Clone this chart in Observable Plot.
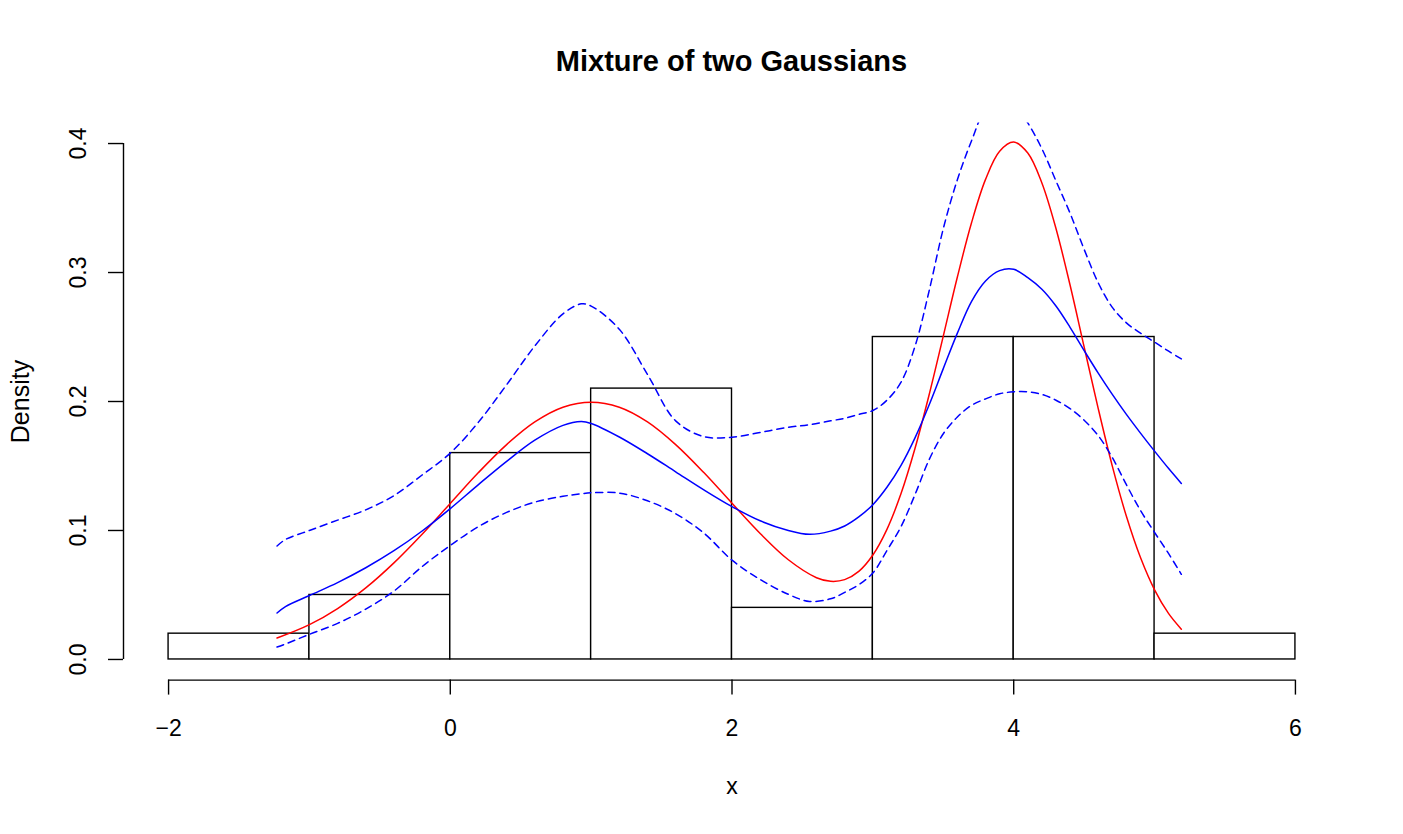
<!DOCTYPE html>
<html><head><meta charset="utf-8">
<script src="https://cdn.jsdelivr.net/npm/d3@7"></script>
<script src="https://cdn.jsdelivr.net/npm/@observablehq/plot@0.6"></script>
<style>
body{margin:0;background:#fff;font-family:"Liberation Sans",Arial,Helvetica,sans-serif;}
#title{box-sizing:border-box;width:1403px;height:100px;padding:47px 0 0 60px;text-align:center;font-weight:bold;font-size:29px;line-height:29px;color:#000;white-space:nowrap;}
#chart svg{display:block;}
</style></head><body>
<div id="title">Mixture of two Gaussians</div>
<div id="chart"></div>
<script>
// ---- data ----
const titleText = "Mixture of two Gaussians";
const xLabel = "x";
const yLabel = "Density";
const xTicks = [-2, 0, 2, 4, 6];
const yTicks = [0, 0.1, 0.2, 0.3, 0.4];

const histBreaks = [-2, -1, 0, 1, 2, 3, 4, 5, 6];
const histDensity = [0.02, 0.05, 0.16, 0.21, 0.04, 0.25, 0.25, 0.02];

// true density (red)
const trueX = [-1.23,-1.0,-0.8,-0.6,-0.4,-0.2,0,0.2,0.4,0.6,0.8,1.0,1.2,1.4,1.6,1.8,2.0,2.2,2.4,2.6,2.7,2.8,2.9,3.0,3.1,3.2,3.3,3.4,3.5,3.6,3.7,3.8,3.9,4.0,4.1,4.2,4.3,4.4,4.5,4.6,4.7,4.8,4.9,5.0,5.1,5.19];
const trueY = [0.0166,0.0270,0.0395,0.0555,0.0749,0.0971,0.1210,0.1449,0.1666,0.1842,0.1956,0.1995,0.1956,0.1842,0.1666,0.1449,0.1211,0.0977,0.0773,0.0634,0.0606,0.0619,0.0683,0.0810,0.1009,0.1286,0.1639,0.2054,0.2507,0.2965,0.3384,0.3722,0.3940,0.4011,0.3926,0.3694,0.3341,0.2903,0.2423,0.1945,0.1499,0.1110,0.0790,0.0540,0.0355,0.0235];

// estimate (blue) with bands
const estX = [-1.23,-1.17,-1.0,-0.8,-0.6,-0.4,-0.2,0,0.2,0.4,0.6,0.8,0.93,1.0,1.2,1.4,1.6,1.8,2.0,2.2,2.4,2.55,2.7,2.8,2.9,3.0,3.1,3.2,3.3,3.4,3.5,3.6,3.7,3.8,3.9,4.0,4.1,4.2,4.3,4.4,4.5,4.6,4.7,4.8,4.9,5.0,5.1,5.19];
const estY = [0.036,0.041,0.0496,0.0596,0.0711,0.0843,0.0996,0.1170,0.1356,0.1536,0.1700,0.1815,0.1845,0.1830,0.1725,0.1595,0.1455,0.1315,0.1185,0.1075,0.1000,0.0970,0.0995,0.1035,0.1105,0.1200,0.1335,0.1505,0.1720,0.1975,0.2255,0.2530,0.2775,0.2935,0.3015,0.3025,0.2960,0.2870,0.2740,0.2575,0.2395,0.2220,0.2055,0.1900,0.1755,0.1615,0.1480,0.1365];
const upperY = [0.088,0.093,0.100,0.108,0.116,0.127,0.143,0.160,0.184,0.213,0.243,0.268,0.2757,0.274,0.256,0.221,0.185,0.1728,0.1723,0.176,0.180,0.182,0.185,0.187,0.190,0.193,0.201,0.215,0.243,0.286,0.334,0.372,0.402,0.427,0.436,0.432,0.416,0.396,0.371,0.346,0.318,0.292,0.273,0.261,0.253,0.246,0.239,0.233];
const lowerY = [0.0096,0.012,0.0195,0.028,0.039,0.053,0.072,0.0884,0.103,0.114,0.122,0.1265,0.1285,0.1292,0.129,0.123,0.113,0.098,0.077,0.062,0.0505,0.045,0.047,0.052,0.058,0.067,0.0845,0.103,0.128,0.155,0.175,0.188,0.197,0.202,0.206,0.2075,0.2075,0.2055,0.201,0.1945,0.1855,0.1735,0.1565,0.1355,0.1155,0.0985,0.082,0.066];

// ---- tables built from arrays ----
const bins = histDensity.map((d, i) => ({lo: histBreaks[i], hi: histBreaks[i + 1], d}));
const trueCurve = trueX.map((x, i) => ({x, y: trueY[i]}));
const estCurve = estX.map((x, i) => ({x, y: estY[i]}));
const upperCurve = estX.map((x, i) => ({x, y: upperY[i]}));
const lowerCurve = estX.map((x, i) => ({x, y: lowerY[i]}));

// R-style padded domains (4% each side)
const xr = xTicks[xTicks.length - 1] - xTicks[0];
const xDomain = [xTicks[0] - 0.04 * xr, xTicks[xTicks.length - 1] + 0.04 * xr];
const yr = yTicks[yTicks.length - 1] - yTicks[0];
const yDomain = [yTicks[0] - 0.04 * yr, yTicks[yTicks.length - 1] + 0.04 * yr];

const font = '"Liberation Sans", Arial, Helvetica, sans-serif';
const fmt = d => (d < 0 ? "\u2212" : "") + Math.abs(d);

document.getElementById("title").textContent = titleText;

const chart = Plot.plot({
  width: 1403,
  height: 734,
  marginLeft: 123,
  marginRight: 63,
  marginTop: 22.4,
  marginBottom: 154.4,
  x: {domain: xDomain, axis: null},
  y: {domain: yDomain, axis: null},
  style: {fontFamily: font, fontSize: "23px", color: "black", background: "white", overflow: "visible"},
  marks: [
    Plot.rectY(bins, {x1: "lo", x2: "hi", y: "d", fill: "white", stroke: "black", strokeWidth: 1.4}),
    Plot.line(trueCurve, {x: "x", y: "y", stroke: "#ff0000", strokeWidth: 1.5, curve: "catmull-rom", clip: true}),
    Plot.line(estCurve, {x: "x", y: "y", stroke: "#0000ff", strokeWidth: 1.5, curve: "catmull-rom", clip: true}),
    Plot.line(upperCurve, {x: "x", y: "y", stroke: "#0000ff", strokeWidth: 1.5, strokeDasharray: "7,5", curve: "catmull-rom", clip: true}),
    Plot.line(lowerCurve, {x: "x", y: "y", stroke: "#0000ff", strokeWidth: 1.5, strokeDasharray: "7,5", curve: "catmull-rom", clip: true}),
    // x axis
    Plot.ruleY([yDomain[0]], {y: d => d, x1: () => xTicks[0], x2: () => xTicks[xTicks.length - 1], stroke: "black", strokeWidth: 1.4}),
    Plot.axisX(xTicks, {anchor: "bottom", tickSize: 15, tickPadding: 25, tickFormat: fmt, strokeWidth: 1.4, fontSize: 23}),
    // y axis
    Plot.ruleX([xDomain[0]], {x: d => d, y1: () => yTicks[0], y2: () => yTicks[yTicks.length - 1], stroke: "black", strokeWidth: 1.4}),
    Plot.axisY(yTicks, {anchor: "left", tickSize: 15, tickFormat: () => "", strokeWidth: 1.4}),
    Plot.text(yTicks, {x: () => xDomain[0], y: d => d, text: d => d.toFixed(1), rotate: -90, dx: -38, lineAnchor: "bottom", textAnchor: "middle", fontSize: 23}),
    // axis titles
    Plot.text([yLabel], {frameAnchor: "left", text: d => d, rotate: -90, dx: -95, lineAnchor: "bottom", textAnchor: "middle", fontSize: 25}),
    Plot.text([xLabel], {frameAnchor: "bottom", text: d => d, dy: 113.4, lineAnchor: "bottom", textAnchor: "middle", fontSize: 23})
  ]
});
document.getElementById("chart").appendChild(chart);
</script></body></html>
